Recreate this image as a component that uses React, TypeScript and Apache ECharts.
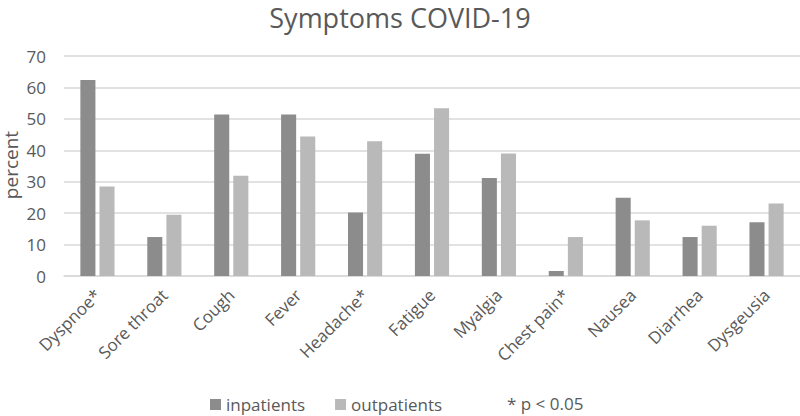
import React, { useEffect, useRef } from "react";
import * as echarts from "echarts";

const categories = ["Dyspnoe*", "Sore throat", "Cough", "Fever", "Headache*", "Fatigue", "Myalgia", "Chest pain*", "Nausea", "Diarrhea", "Dysgeusia"];
const inpatients = [62.4, 12.4, 51.4, 51.4, 20.2, 38.9, 31.2, 1.6, 24.9, 12.4, 17.1];
const outpatients = [28.5, 19.5, 31.9, 44.4, 42.9, 53.4, 39.0, 12.4, 17.7, 16.0, 23.1];
const seriesNames = ["inpatients", "outpatients"];
const noteText = "* p < 0.05";
const yAxisTitle = "percent";

const FONT = "Open Sans";
const TEXT = "#595959";

export default function App() {
  const ref = useRef<HTMLDivElement>(null);
  useEffect(() => {
    if (!ref.current) return;
    const chart = echarts.init(ref.current, undefined, { renderer: "svg" });
    chart.setOption({
      animation: false,
      backgroundColor: "#ffffff",
      title: {
        text: "Symptoms COVID-19",
        left: "center",
        top: 2,
        padding: 0,
        textStyle: { fontFamily: FONT, fontSize: 27, lineHeight: 30, fontWeight: "normal", color: TEXT },
      },
      legend: {
        data: seriesNames,
        top: 396,
        left: 210,
        padding: 0,
        itemWidth: 11,
        itemHeight: 11,
        itemGap: 30,
        icon: "rect",
        textStyle: { fontFamily: FONT, fontSize: 17, color: TEXT },
      },
      graphic: [
        {
          type: "text",
          left: 507,
          top: 395,
          style: { text: noteText, fontFamily: FONT, fontSize: 17, fill: TEXT },
        },
        {
          type: "text",
          x: 11,
          y: 165,
          rotation: Math.PI / 2,
          style: {
            text: yAxisTitle,
            fontFamily: FONT,
            fontSize: 19,
            fill: TEXT,
            align: "center",
            verticalAlign: "middle",
          },
        },
      ],
      grid: { left: 64, right: 0, top: 56, bottom: 140, containLabel: false, outerBoundsMode: "none" },
      xAxis: {
        type: "category",
        data: categories,
        axisLine: { lineStyle: { color: "#d9d9d9", width: 1.5 } },
        axisTick: { show: false },
        axisLabel: { rotate: 45, margin: 16, fontFamily: FONT, fontSize: 17, color: TEXT, interval: 0 },
      },
      yAxis: {
        type: "value",
        min: 0,
        max: 70,
        interval: 10,
        axisLine: { show: false },
        axisTick: { show: false },
        axisLabel: { fontFamily: FONT, fontSize: 17, color: TEXT, margin: 18 },
        splitLine: { lineStyle: { color: "#d9d9d9", width: 1.5 } },
      },
      series: [
        {
          name: seriesNames[0],
          type: "bar",
          data: inpatients,
          barWidth: "22.5%",
          barGap: "27%",
          itemStyle: { color: "#8c8c8c" },
        },
        {
          name: seriesNames[1],
          type: "bar",
          data: outpatients,
          barWidth: "22.5%",
          itemStyle: { color: "#b9b9b9" },
        },
      ],
    });
    return () => chart.dispose();
  }, []);
  return <div ref={ref} style={{ width: 800, height: 416, position: "fixed", left: 0, top: 0 }} />;
}
